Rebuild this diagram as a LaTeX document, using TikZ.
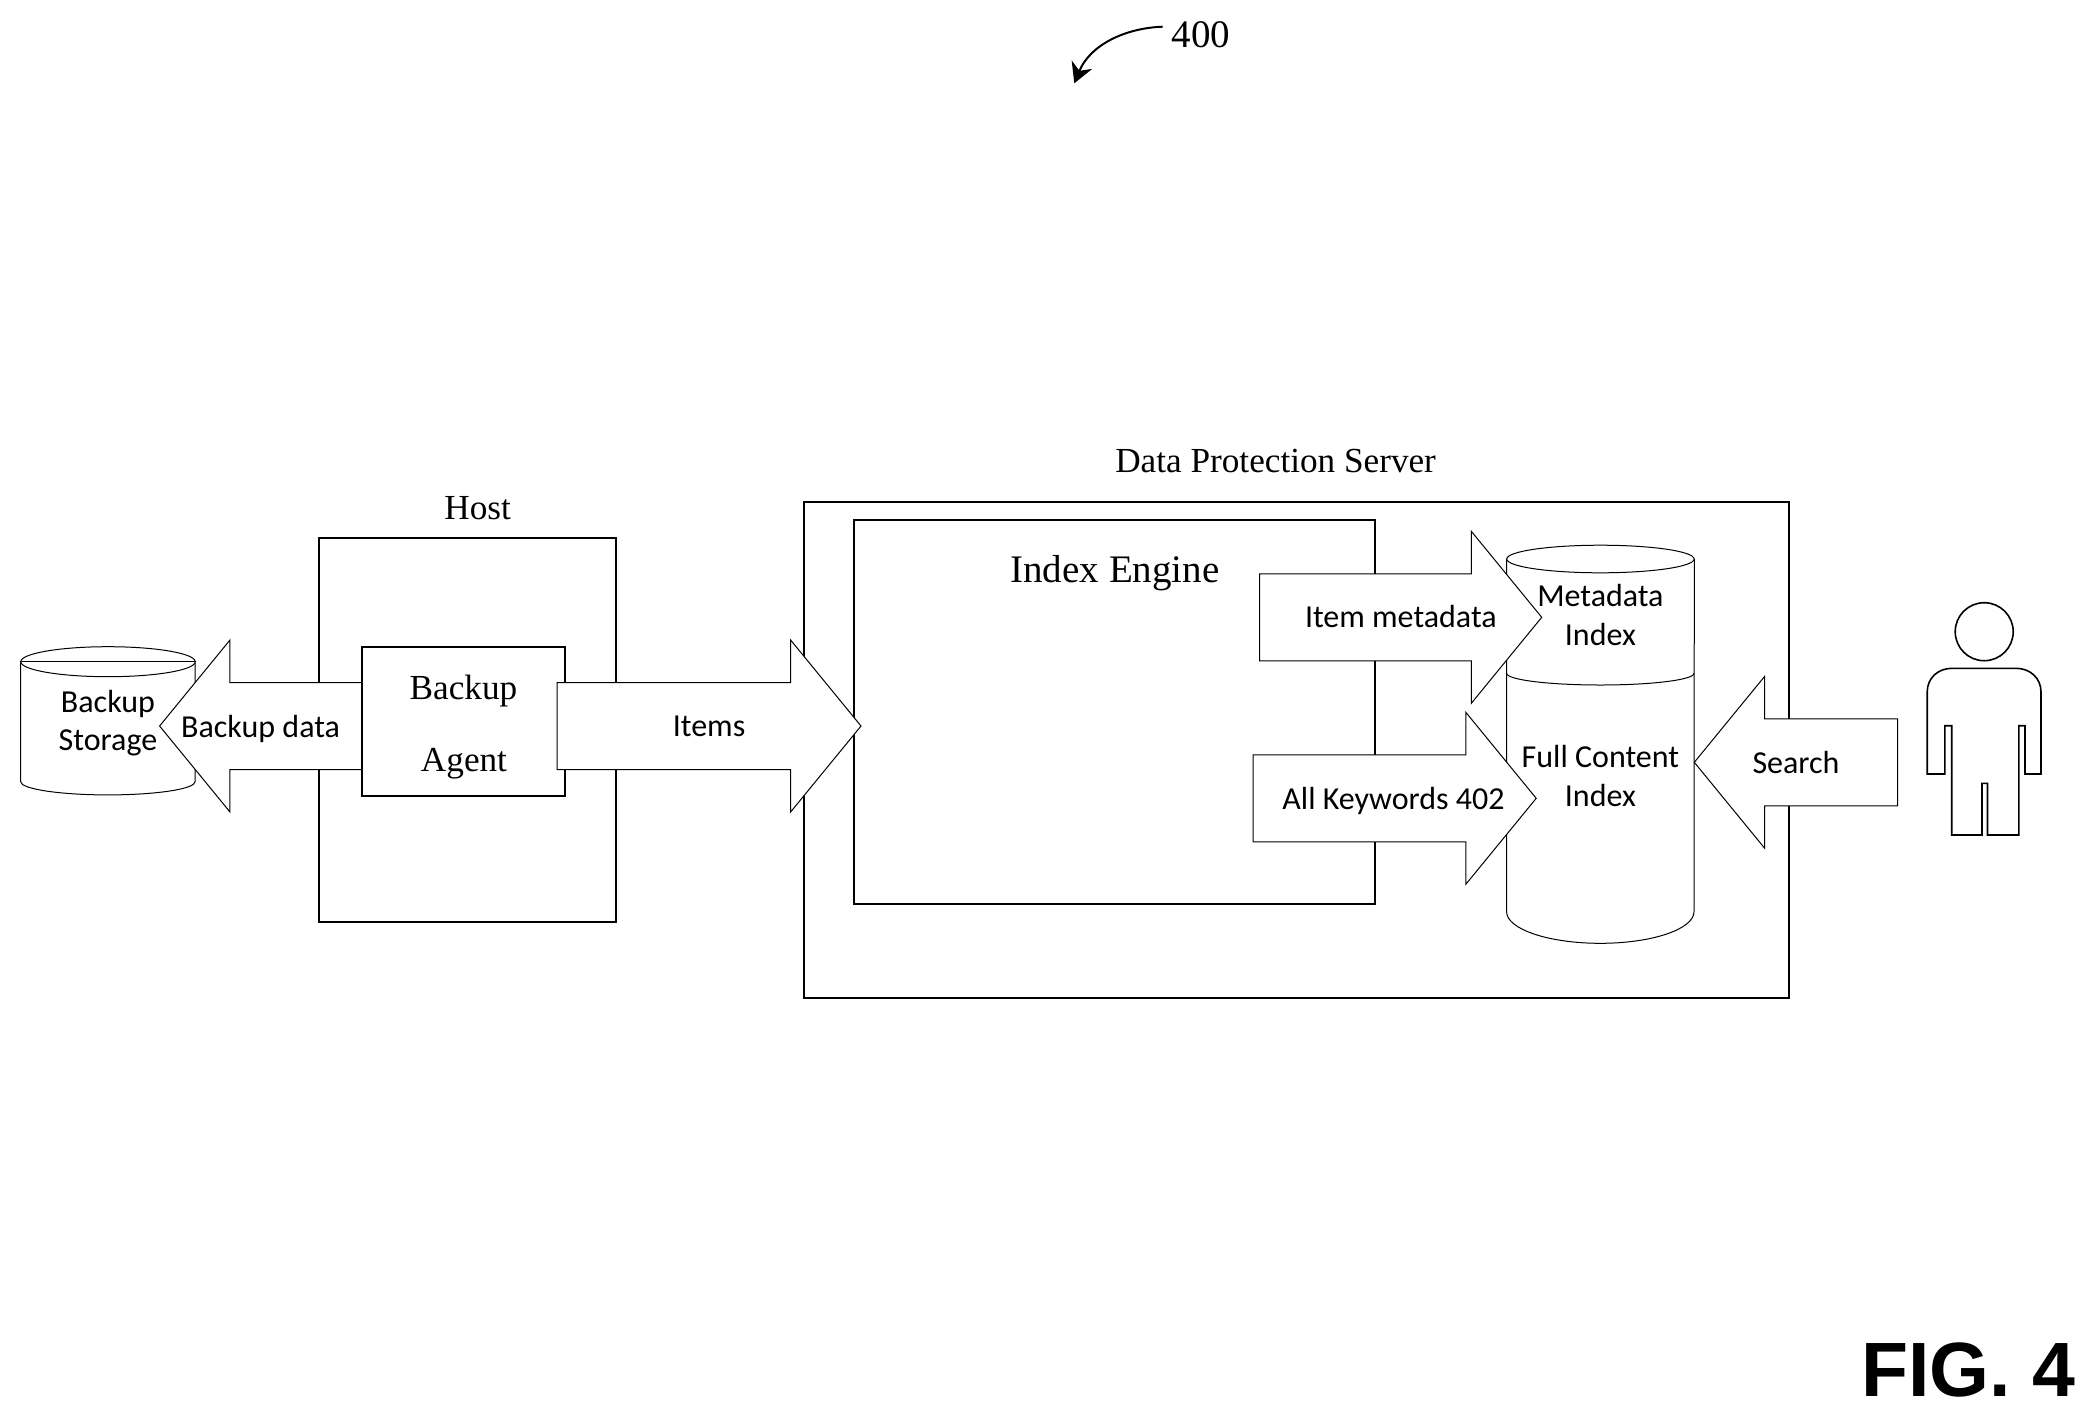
\documentclass[tikz,border=0pt]{standalone}
\usepackage{fontspec}
\setmainfont{Liberation Serif}
\setsansfont{Carlito}
\newfontfamily\figfont{Liberation Sans}
\usetikzlibrary{positioning, shapes.arrows, shapes.geometric, arrows.meta}
\tikzset{
    x=0.5pt, y=-0.5pt, % one unit is one pixel of the reference, going down
    box/.style={draw, line width=1pt, fill=white, inner sep=0pt, outer sep=0pt},
    thinline/.style={draw, line width=0.5pt, fill=white},
    person/.style={draw, line width=0.8pt, fill=white},
    bigarrow/.style={single arrow, draw, line width=0.5pt, fill=white, inner sep=0pt, outer sep=0pt,
        anchor=tip, text height=43pt, minimum width=85.5pt, single arrow head extend=21.25pt,
        single arrow tip angle=101.4},
    leftarrow/.style={bigarrow, shape border rotate=180},
    word/.style={inner sep=0pt, font=\sffamily\fontsize{16}{18}\selectfont},
    title/.style={inner sep=0pt, font=\fontsize{17.6}{20}\selectfont},
    bigtitle/.style={inner sep=0pt, font=\fontsize{19.5}{22}\selectfont},
    refarrow/.style={-{Stealth[length=10pt,width=11pt]}, line width=1pt},
}
\begin{document}
\begin{tikzpicture}
    \useasboundingbox (0,0) rectangle (2093,1419);
    % figure reference
    \node[bigtitle] (ref) at (1201,34.5) {400};
    \coordinate (refstart) at (1162.7,26.7);
    \coordinate (reftip) at (1074.3,83.3);
    \draw[refarrow] (refstart) .. controls (1125,28) and (1090,45) .. (reftip);

    % host side
    \node[box, minimum width=148.7pt, minimum height=192pt] (host) at (467.3,729.7) {};
    \node[title, above of=host, node distance=110.8pt, xshift=5.2pt] (hostname) {Host};

    % backup storage
    \draw[thinline] (20.7,661.7) -- (20.7,781.7) arc[start angle=180, end angle=360, x radius=43.6pt, y radius=6.6pt]
        -- (195.2,661.7) -- cycle;
    \node[thinline, ellipse, minimum width=87.2pt, minimum height=15pt, inner sep=0pt, outer sep=0pt] (storagetop) at (108,661.7) {};
    \draw[line width=0.5pt] (storagetop.west) -- (storagetop.east);

    \node[box, minimum width=101.9pt, minimum height=74.5pt] (agent) at (463.5,721.2) {};
    \node[leftarrow, minimum height=101pt] (backupdata) at (159.6,726) {};

    % server side
    \node[box, minimum width=492.5pt, minimum height=248pt] (server) at (1296.2,749.7) {};
    \node[title, above of=server, node distance=144.5pt, xshift=-10.3pt] (servername) {Data Protection Server};
    \node[box, minimum width=260.6pt, minimum height=192pt] (engine) at (1114.8,712) {};
    \node[bigarrow, minimum height=152pt] (items) at (861,726) {};

    % index store, the two parts
    \draw[thinline] (1506.6,559) -- (1506.6,911.7) arc[start angle=180, end angle=360, x radius=46.85pt, y radius=15.8pt]
        -- (1694.3,559) -- cycle;
    \node[thinline, ellipse, minimum width=93.7pt, minimum height=13.8pt, inner sep=0pt, outer sep=0pt] (indextop) at (1600.4,559) {};
    \draw[line width=0.5pt] (1506.6,673.3) arc[start angle=180, end angle=360, x radius=46.85pt, y radius=5.85pt];

    \node[bigarrow, minimum height=141pt] (itemmeta) at (1541.7,617.3) {};
    \node[bigarrow, below of=itemmeta, node distance=90.5pt, xshift=-3pt, minimum height=141.5pt] (keywords) {};
    \node[leftarrow, minimum height=101.6pt] (search) at (1694.3,762.3) {};

    % user
    \draw[person] (1927.2,774) -- (1927.2,692) .. controls (1927.2,678) and (1938,668.3) .. (1952,668.3)
        -- (2016,668.3) .. controls (2030,668.3) and (2041,678) .. (2041,692) -- (2041,774) -- (2025,774)
        -- (2025,725.7) -- (2018.9,725.7) -- (2018.9,835) -- (1987.5,835) -- (1987.5,783.3) -- (1982,783.3)
        -- (1982,835) -- (1951.7,835) -- (1951.7,725.7) -- (1944.8,725.7) -- (1944.8,774) -- cycle;
    \node[person, circle, minimum size=29pt, inner sep=0pt] (userhead) at (1984.2,631.7) {};

    % texts on top
    \node[title] (agentword1) at (463.5,691) {Backup};
    \node[title] (agentword2) at (464,764) {Agent};
    \node[bigtitle] (enginename) at (1115,573) {Index Engine};
    \node[word] (backupname) at (260.6,728.5) {Backup data};
    \node[word] (itemsname) at (709,726) {Items};
    \node[word] (metaname) at (1400.8,616) {Item metadata};
    \node[word] (keywordsname) at (1393.5,801) {All Keywords 402};
    \node[word] (searchname) at (1796,762.3) {Search};
    \node[word] (storage1) at (108,704) {Backup};
    \node[word] (storage2) at (108,743) {Storage};
    \node[word] (meta1) at (1600.4,595.5) {Metadata};
    \node[word] (meta2) at (1600.4,634.5) {Index};
    \node[word] (full1) at (1600.4,756) {Full Content};
    \node[word] (full2) at (1600.4,795.5) {Index};
    \node[inner sep=0pt, font=\figfont\bfseries\fontsize{38.5}{40}\selectfont] (figname) at (1968,1369.5) {FIG. 4};
\end{tikzpicture}
\end{document}
